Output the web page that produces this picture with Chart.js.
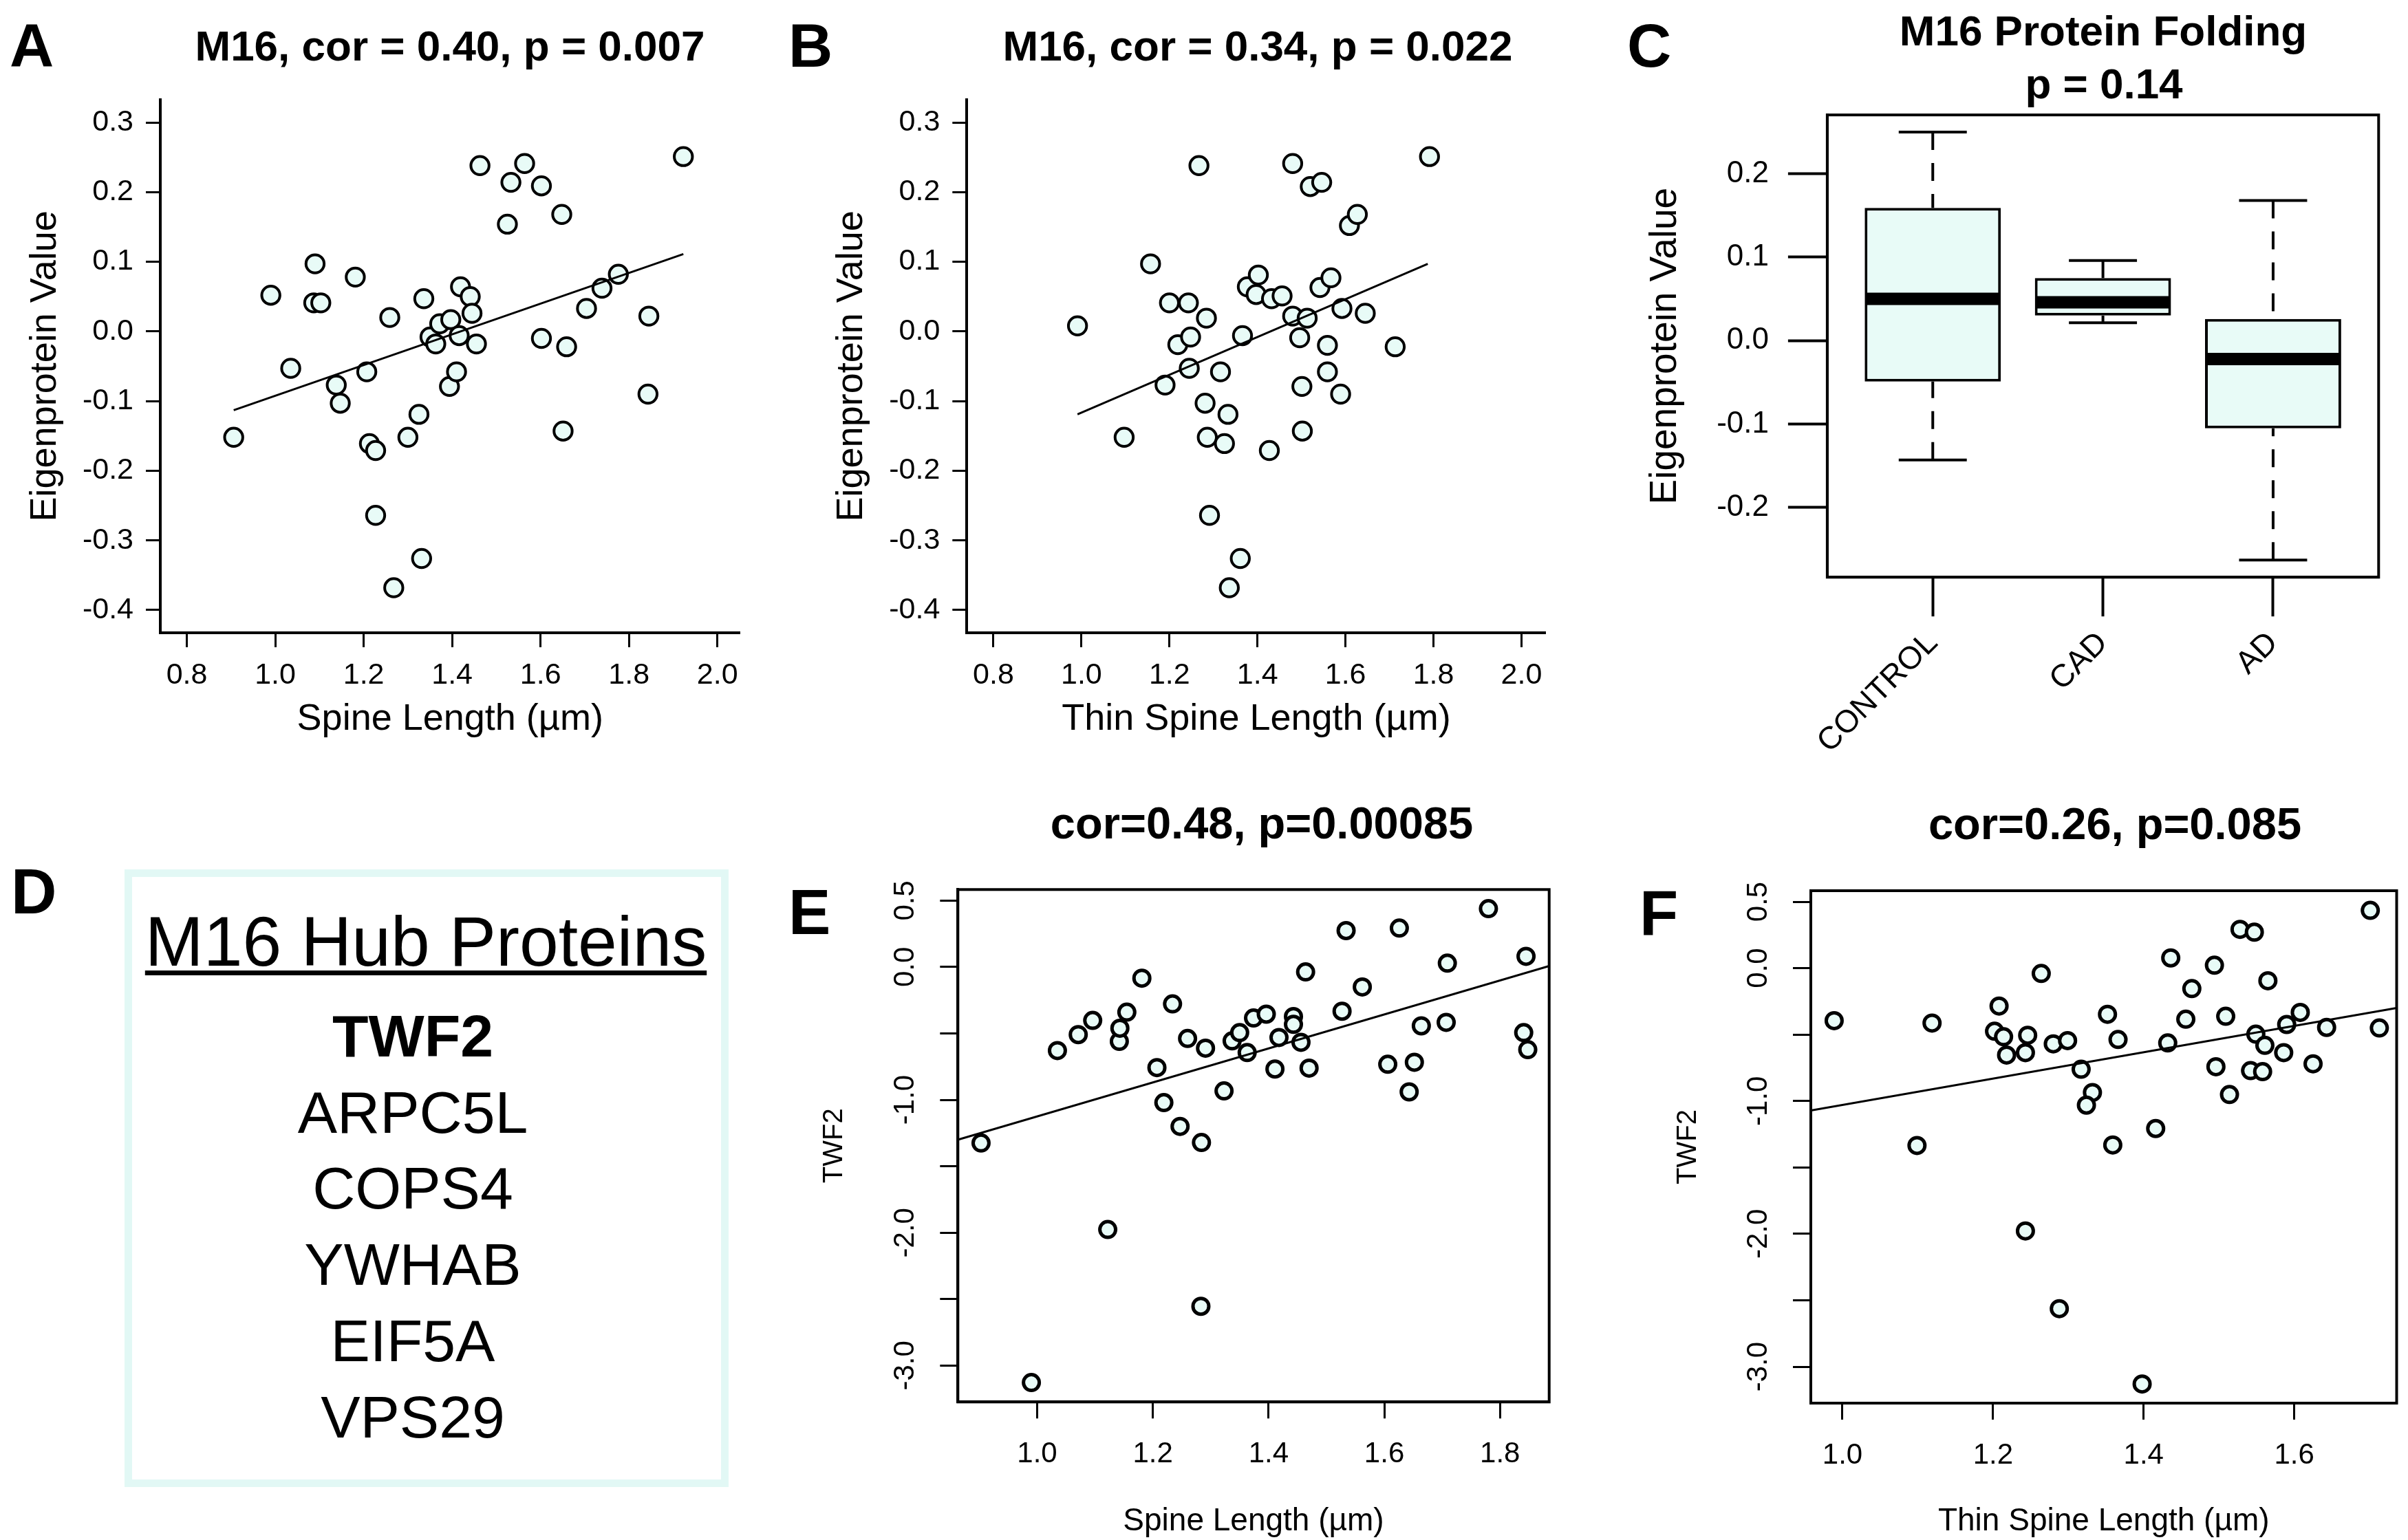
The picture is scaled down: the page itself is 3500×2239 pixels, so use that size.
<!DOCTYPE html>
<html lang="en">
<head>
<meta charset="utf-8">
<title>M16 module: spine length correlations, protein folding boxplot, hub proteins</title>
<script src="https://cdn.jsdelivr.net/npm/chart.js@4.4.1/dist/chart.umd.min.js"></script>
<style>
  html, body { margin:0; padding:0; background:#fff; }
  body { position:relative; width:3500px; height:2239px; overflow:hidden;
         font-family:'Liberation Sans', Arial, sans-serif; color:#000; }
  canvas { position:absolute; }
  .t { position:absolute; white-space:nowrap; font-family:'Liberation Sans', Arial, sans-serif; }
  #hubBox { position:absolute; box-sizing:border-box; border:11px solid #E2F8F5; }
</style>
</head>
<body>
<script>
// ---------------- DATA ----------------
// Panel A: Eigenprotein value vs spine length
const aSpine = [0.906,0.990,1.035,1.090,1.087,1.103,1.138,1.147,1.181,1.207,1.213,1.227,1.227,1.259,1.268,1.300,1.325,1.331,1.336,1.350,1.363,1.372,1.397,1.394,1.410,1.416,1.419,1.441,1.445,1.455,1.463,1.525,1.533,1.564,1.602,1.602,1.648,1.651,1.659,1.704,1.739,1.776,1.843,1.845,1.923];
const aEigen = [-0.152,0.052,-0.053,0.097,0.041,0.041,-0.077,-0.103,0.078,-0.058,-0.161,-0.171,-0.264,0.020,-0.368,-0.152,-0.119,-0.326,0.047,-0.008,-0.018,0.011,0.017,-0.079,-0.058,-0.006,0.064,0.050,0.026,-0.018,0.238,0.154,0.214,0.241,0.209,-0.010,0.168,-0.143,-0.022,0.033,0.062,0.082,-0.090,0.022,0.251];
const aFitX = [0.906, 1.923];
const aFitY = [-0.113, 0.111];

// Panel B: Eigenprotein value vs thin spine length
const bThin = [0.991,1.097,1.157,1.190,1.200,1.219,1.243,1.245,1.248,1.267,1.281,1.284,1.286,1.291,1.316,1.325,1.333,1.336,1.361,1.366,1.377,1.397,1.402,1.427,1.432,1.456,1.480,1.480,1.496,1.501,1.502,1.513,1.520,1.546,1.542,1.559,1.559,1.567,1.589,1.592,1.609,1.627,1.645,1.713,1.791];
const bEigen = [0.008,-0.152,0.097,-0.077,0.041,-0.019,0.041,-0.053,-0.008,0.238,-0.103,0.019,-0.152,-0.264,-0.058,-0.161,-0.119,-0.368,-0.326,-0.006,0.064,0.053,0.081,-0.171,0.047,0.051,0.241,0.022,-0.009,-0.079,-0.143,0.019,0.208,0.214,0.063,-0.020,-0.058,0.077,-0.090,0.033,0.152,0.168,0.026,-0.022,0.251];
const bFitX = [0.991, 1.787];
const bFitY = [-0.119, 0.097];

// Panel C: boxplot statistics
const cGroups = ['CONTROL', 'CAD', 'AD'];
const cLowerWhisker = [-0.143, 0.0215, -0.263];
const cQ1 = [-0.049, 0.030, -0.105];
const cMedian = [0.050, 0.046, -0.022];
const cQ3 = [0.159, 0.075, 0.026];
const cUpperWhisker = [0.250, 0.096, 0.168];

// Panel D: hub proteins
const dHubProteins = ['TWF2', 'ARPC5L', 'COPS4', 'YWHAB', 'EIF5A', 'VPS29'];

// Panel E: TWF2 vs spine length
const eSpine = [0.903,0.990,1.035,1.071,1.096,1.142,1.143,1.122,1.155,1.181,1.207,1.219,1.234,1.247,1.260,1.284,1.283,1.291,1.323,1.337,1.350,1.363,1.374,1.396,1.411,1.418,1.443,1.443,1.456,1.464,1.470,1.527,1.534,1.562,1.606,1.626,1.643,1.652,1.664,1.707,1.709,1.780,1.841,1.845,1.848];
const eTWF2 = [-1.325,-3.128,-0.629,-0.509,-0.402,-0.560,-0.461,-1.976,-0.340,-0.084,-0.757,-1.021,-0.278,-1.200,-0.538,-1.321,-2.554,-0.611,-0.933,-0.556,-0.494,-0.644,-0.384,-0.355,-0.768,-0.531,-0.373,-0.432,-0.567,-0.037,-0.761,-0.333,0.274,-0.150,-0.732,0.293,-0.940,-0.717,-0.443,-0.417,0.029,0.439,-0.494,0.080,-0.622];
const eFitX = [0.863, 1.885];
const eFitY = [-1.30, 0.007];

// Panel F: TWF2 vs thin spine length
const fThin = [0.989,1.099,1.119,1.243,1.288,1.398,1.208,1.264,1.202,1.214,1.218,1.246,1.243,1.280,1.299,1.317,1.332,1.324,1.352,1.366,1.359,1.416,1.432,1.436,1.456,1.464,1.494,1.496,1.509,1.514,1.528,1.547,1.549,1.542,1.558,1.561,1.565,1.586,1.590,1.608,1.625,1.643,1.701,1.713];
const fTWF2 = [-0.395,-1.335,-0.413,-1.978,-2.563,-3.130,-0.285,-0.040,-0.475,-0.516,-0.654,-0.505,-0.636,-0.570,-0.545,-0.761,-0.936,-1.031,-0.347,-0.537,-1.331,-1.207,-0.563,0.077,-0.384,-0.154,0.022,-0.742,-0.362,-0.951,0.292,0.271,-0.497,-0.771,-0.779,-0.581,-0.095,-0.636,-0.424,-0.333,-0.720,-0.446,0.435,-0.450];
const fFitX = [0.958, 1.736];
const fFitY = [-1.071, -0.300];

// Tick values / labels
const abXTicks = [0.8, 1.0, 1.2, 1.4, 1.6, 1.8, 2.0];
const abYTicks = [-0.4, -0.3, -0.2, -0.1, 0.0, 0.1, 0.2, 0.3];
const cYTicks = [-0.2, -0.1, 0.0, 0.1, 0.2];
const efYTicks = [-3.0, -2.5, -2.0, -1.5, -1.0, -0.5, 0.0, 0.5];
const efYLabels = ['-3.0', '', '-2.0', '', '-1.0', '', '0.0', '0.5'];
const eXTicks = [1.0, 1.2, 1.4, 1.6, 1.8];
const fXTicks = [1.0, 1.2, 1.4, 1.6];

// ---------------- STYLE ----------------
const FILL = '#E8FBF7';
const FONT = "'Liberation Sans', Arial, sans-serif";
Chart.defaults.font.family = FONT;
Chart.defaults.color = '#000';

// ---------------- HELPERS ----------------
function makeCanvas(left, top, w, h) {
  const c = document.createElement('canvas');
  c.width = w; c.height = h;
  c.style.left = left + 'px'; c.style.top = top + 'px';
  c.style.width = w + 'px'; c.style.height = h + 'px';
  document.body.appendChild(c);
  return c.getContext('2d');
}
function fixedTicks(vals) { return s => { s.ticks = vals.map(v => ({ value: v })); }; }
function placeText(text, x, baseline, size, o = {}) {
  const d = document.createElement('div');
  d.className = 't';
  d.textContent = text;
  d.style.fontSize = size + 'px';
  d.style.lineHeight = size + 'px';
  d.style.fontWeight = o.bold ? 'bold' : 'normal';
  d.style.top = (baseline - 0.87 * size) + 'px';
  if (o.align === 'left') { d.style.left = x + 'px'; }
  else { d.style.left = (x - 1500) + 'px'; d.style.width = '3000px'; d.style.textAlign = 'center'; }
  if (o.underline) {
    d.style.textDecoration = 'underline';
    d.style.textDecorationThickness = '7px';
    d.style.textUnderlineOffset = '7px';
  }
  document.body.appendChild(d);
  return d;
}
const framePlugin = {
  id: 'frame',
  afterDraw(chart) {
    const { ctx, chartArea: a } = chart;
    ctx.save();
    ctx.lineWidth = 4; ctx.strokeStyle = '#000';
    ctx.strokeRect(a.left, a.top, a.right - a.left, a.bottom - a.top);
    ctx.restore();
  }
};
const baseOpts = {
  responsive: false, animation: false, devicePixelRatio: 1, events: [],
  plugins: { legend: { display: false }, tooltip: { enabled: false }, title: { display: false } }
};

function scatterPanel(p) {
  const ctx = makeCanvas(p.left, p.top, p.w, p.h);
  const tickFont = { size: p.tickSize, family: FONT };
  return new Chart(ctx, {
    type: 'scatter',
    data: {
      datasets: [
        { data: p.fitX.map((x, i) => ({ x, y: p.fitY[i] })), showLine: true, pointRadius: 0,
          borderColor: '#000', borderWidth: 3, fill: false },
        { data: p.xs.map((x, i) => ({ x, y: p.ys[i] })), showLine: false,
          pointRadius: p.r, pointBorderWidth: p.bw, pointHoverRadius: p.r,
          backgroundColor: FILL, borderColor: '#000',
          pointBackgroundColor: FILL, pointBorderColor: '#000' }
      ]
    },
    plugins: p.frame ? [framePlugin] : [],
    options: Object.assign({}, baseOpts, {
      layout: { padding: { top: p.padTop, right: p.padRight, left: 0, bottom: 0 } },
      scales: {
        x: {
          type: 'linear', min: p.xMin, max: p.xMax,
          afterBuildTicks: fixedTicks(p.xTicks),
          afterFit: s => { s.height = p.xAxisH; },
          grid: { display: true, drawOnChartArea: false, drawTicks: true, tickLength: p.xTickLen, tickWidth: 3, tickColor: '#000' },
          border: { display: true, color: '#000', width: 4 },
          ticks: { autoSkip: false, maxRotation: 0, minRotation: 0, padding: p.xTickPad, font: tickFont, color: '#000',
                   callback: v => v.toFixed(1) },
          title: { display: true, text: p.xTitle, color: '#000', font: { size: p.titleSize, family: FONT },
                   padding: { top: 0, bottom: p.xTitlePad } }
        },
        y: {
          type: 'linear', min: p.yMin, max: p.yMax,
          afterBuildTicks: fixedTicks(p.yTicks),
          afterFit: s => { s.width = p.yAxisW; },
          grid: { display: true, drawOnChartArea: false, drawTicks: true, tickLength: p.yTickLen, tickWidth: 3, tickColor: '#000' },
          border: { display: true, color: '#000', width: 4 },
          ticks: Object.assign({ autoSkip: false, padding: p.yTickPad, font: tickFont, color: '#000',
                   callback: p.yLabels ? ((v, i) => p.yLabels[i]) : (v => v.toFixed(1)) },
                   p.yRotate ? { minRotation: 90, maxRotation: 90, crossAlign: 'center' } : {}),
          title: { display: true, text: p.yTitle, color: '#000', font: { size: p.yTitleSize || p.titleSize, family: FONT },
                   padding: { top: p.yTitlePad, bottom: 0 } }
        }
      }
    })
  });
}

// ---------------- PANEL A ----------------
scatterPanel({
  left: 0, top: 90, w: 1130, h: 1010, padTop: 54.6, padRight: 54.5,
  yAxisW: 233, xAxisH: 180,
  xMin: 0.74, xMax: 2.051, yMin: -0.4326, yMax: 0.333,
  xTicks: abXTicks, yTicks: abYTicks,
  xs: aSpine, ys: aEigen, fitX: aFitX, fitY: aFitY,
  r: 13.2, bw: 4, tickSize: 43, titleSize: 54,
  xTickLen: 21, yTickLen: 21, xTickPad: 15, yTickPad: 18,
  xTitle: 'Spine Length (µm)', yTitle: 'Eigenprotein Value', xTitlePad: 21.6, yTitlePad: 33.5
});

// ---------------- PANEL B ----------------
scatterPanel({
  left: 1135, top: 90, w: 1130, h: 1010, padTop: 54.6, padRight: 18.4,
  yAxisW: 270.3, xAxisH: 180,
  xMin: 0.7395, xMax: 2.055, yMin: -0.4326, yMax: 0.333,
  xTicks: abXTicks, yTicks: abYTicks,
  xs: bThin, ys: bEigen, fitX: bFitX, fitY: bFitY,
  r: 13.2, bw: 4, tickSize: 43, titleSize: 54,
  xTickLen: 21, yTickLen: 21, xTickPad: 15, yTickPad: 18,
  xTitle: 'Thin Spine Length (µm)', yTitle: 'Eigenprotein Value', xTitlePad: 21.6, yTitlePad: 70.9
});

// ---------------- PANEL C ----------------
const BOX_WEX = 0.8, STAPLE_WEX = 0.4;
const boxplotExtras = {
  id: 'boxplotExtras',
  afterDatasetsDraw(chart) {
    const { ctx, scales: { x, y } } = chart;
    ctx.save();
    ctx.strokeStyle = '#000';
    ctx.lineCap = 'butt';
    cGroups.forEach((g, i) => {
      const pos = i + 1;
      const cx = x.getPixelForValue(pos);
      const bl = x.getPixelForValue(pos - BOX_WEX / 2), br = x.getPixelForValue(pos + BOX_WEX / 2);
      const sl = x.getPixelForValue(pos - STAPLE_WEX / 2), sr = x.getPixelForValue(pos + STAPLE_WEX / 2);
      ctx.lineWidth = 4;
      ctx.setLineDash([26, 19]);
      [[cUpperWhisker[i], cQ3[i]], [cLowerWhisker[i], cQ1[i]]].forEach(([a, b]) => {
        ctx.beginPath();
        ctx.moveTo(cx, y.getPixelForValue(a));
        ctx.lineTo(cx, y.getPixelForValue(b));
        ctx.stroke();
      });
      ctx.setLineDash([]);
      [cUpperWhisker[i], cLowerWhisker[i]].forEach(v => {
        const py = y.getPixelForValue(v);
        ctx.beginPath(); ctx.moveTo(sl, py); ctx.lineTo(sr, py); ctx.stroke();
      });
      ctx.lineWidth = 18;
      const my = y.getPixelForValue(cMedian[i]);
      ctx.beginPath(); ctx.moveTo(bl + 2, my); ctx.lineTo(br - 2, my); ctx.stroke();
    });
    ctx.restore();
  }
};
(function () {
  const ctx = makeCanvas(2340, 100, 1160, 1100);
  new Chart(ctx, {
    type: 'bar',
    data: {
      datasets: [{
        data: cGroups.map((g, i) => ({ x: i + 1, y: [cQ1[i], cQ3[i]] })),
        backgroundColor: FILL, borderColor: '#000', borderWidth: 4, borderSkipped: false,
        barPercentage: BOX_WEX, categoryPercentage: 1.0
      }]
    },
    plugins: [boxplotExtras, framePlugin],
    options: Object.assign({}, baseOpts, {
      layout: { padding: { top: 67.1, right: 42.7, left: 0, bottom: 0 } },
      scales: {
        x: {
          type: 'linear', min: 0.38, max: 3.62, offset: false,
          afterBuildTicks: fixedTicks(cGroups.map((g, i) => i + 1)),
          afterFit: s => { s.height = 360.8; },
          grid: { display: true, offset: false, drawOnChartArea: false, drawTicks: true, tickLength: 57, tickWidth: 4, tickColor: '#000' },
          border: { display: true, color: '#000', width: 4 },
          ticks: { autoSkip: false, minRotation: 45, maxRotation: 45, padding: 12, labelOffset: 0,
                   font: { size: 46, family: FONT }, color: '#000',
                   callback: (v, i) => cGroups[i] }
        },
        y: {
          type: 'linear', min: -0.2835, max: 0.2705, beginAtZero: false,
          afterBuildTicks: fixedTicks(cYTicks),
          afterFit: s => { s.width = 315.9; },
          grid: { display: true, drawOnChartArea: false, drawTicks: true, tickLength: 57, tickWidth: 4, tickColor: '#000' },
          border: { display: true, color: '#000', width: 4 },
          ticks: { autoSkip: false, padding: 27.9, font: { size: 44, family: FONT }, color: '#000', callback: v => v.toFixed(1) },
          title: { display: true, text: 'Eigenprotein Value', color: '#000', font: { size: 55, family: FONT },
                   padding: { top: 48, bottom: 0 } }
        }
      }
    })
  });
})();

// ---------------- PANEL E ----------------
scatterPanel({
  left: 1140, top: 1240, w: 1190, h: 1020, padTop: 53.3, padRight: 78.3,
  yAxisW: 252.3, xAxisH: 221.7, frame: true,
  xMin: 0.863, xMax: 1.885, yMin: -3.274, yMax: 0.583,
  xTicks: eXTicks, yTicks: efYTicks, yLabels: efYLabels, yRotate: true,
  xs: eSpine, ys: eTWF2, fitX: eFitX, fitY: eFitY,
  r: 11.5, bw: 5, tickSize: 42, titleSize: 46, yTitleSize: 40,
  xTickLen: 24, yTickLen: 26, xTickPad: 27, yTickPad: 13.4,
  xTitle: 'Spine Length (µm)', yTitle: 'TWF2', xTitlePad: 20.4, yTitlePad: 49
});

// ---------------- PANEL F ----------------
scatterPanel({
  left: 2340, top: 1240, w: 1160, h: 1020, padTop: 55, padRight: 10,
  yAxisW: 292, xAxisH: 220, frame: true,
  xMin: 0.958, xMax: 1.736, yMin: -3.274, yMax: 0.583,
  xTicks: fXTicks, yTicks: efYTicks, yLabels: efYLabels, yRotate: true,
  xs: fThin, ys: fTWF2, fitX: fFitX, fitY: fFitY,
  r: 11.5, bw: 5, tickSize: 42, titleSize: 46, yTitleSize: 40,
  xTickLen: 24, yTickLen: 26, xTickPad: 27, yTickPad: 13.4,
  xTitle: 'Thin Spine Length (µm)', yTitle: 'TWF2', xTitlePad: 20.4, yTitlePad: 90
});

// ---------------- PANEL D (text box) ----------------
(function () {
  const box = document.createElement('div');
  box.id = 'hubBox';
  box.style.left = '180.5px'; box.style.top = '1263.5px';
  box.style.width = (1059.3 - 180.5) + 'px'; box.style.height = (2161.8 - 1263.5) + 'px';
  document.body.appendChild(box);
  placeText('M16 Hub Proteins', 619, 1406.6, 102, { underline: true });
  dHubProteins.forEach((name, i) => {
    placeText(name, 600, 1537.5 + i * 110.9, 86, { bold: i === 0 });
  });
})();

// ---------------- TITLES & PANEL LETTERS ----------------
placeText('M16, cor = 0.40, p = 0.007', 654, 89.6, 62, { bold: true });
placeText('M16, cor = 0.34, p = 0.022', 1828, 89.6, 62, { bold: true });
placeText('M16 Protein Folding', 3057, 68.4, 62, { bold: true });
placeText('p = 0.14', 3058, 144.6, 62, { bold: true });
placeText('cor=0.48, p=0.00085', 1834, 1221, 65, { bold: true });
placeText('cor=0.26, p=0.085', 3074, 1221.7, 65, { bold: true });

placeText('A', 14, 99, 89, { bold: true, align: 'left' });
placeText('B', 1146, 99, 89, { bold: true, align: 'left' });
placeText('C', 2365, 99, 89, { bold: true, align: 'left' });
placeText('D', 16, 1330, 92, { bold: true, align: 'left' });
placeText('E', 1146, 1360, 92, { bold: true, align: 'left' });
placeText('F', 2383, 1361, 92, { bold: true, align: 'left' });
</script>
</body>
</html>
